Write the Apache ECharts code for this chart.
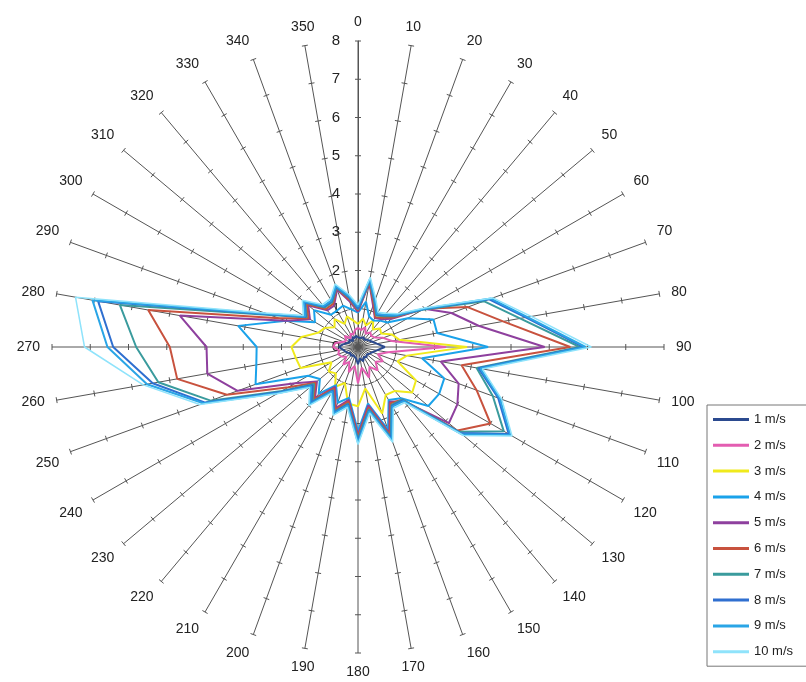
<!DOCTYPE html>
<html><head><meta charset="utf-8">
<script src="https://cdn.jsdelivr.net/npm/echarts@6/dist/echarts.min.js"></script>
<style>html,body{margin:0;padding:0;background:#fff}#c{width:806px;height:682px}</style>
</head><body><div id="c"></div>
<script>
// Wind direction (degrees), one value per spoke
const directions = [0,10,20,30,40,50,60,70,80,90,100,110,120,130,140,150,160,170,180,190,200,210,220,230,240,250,260,270,280,290,300,310,320,330,340,350];
const radiusTicks = [1,2,3,4,5,6,7,8];
const seriesNames = ['1 m/s','2 m/s','3 m/s','4 m/s','5 m/s','6 m/s','7 m/s','8 m/s','9 m/s','10 m/s'];

const speed1  = [0.25,0.3,0.25,0.3,0.25,0.3,0.3,0.4,0.5,0.7,0.5,0.4,0.35,0.3,0.35,0.3,0.4,0.3,0.45,0.3,0.3,0.25,0.3,0.25,0.3,0.35,0.4,0.5,0.4,0.3,0.25,0.3,0.2,0.3,0.25,0.3];
const speed2  = [0.5,0.45,0.55,0.4,0.5,0.45,0.5,0.7,0.9,2.3,0.8,0.55,0.75,0.6,0.8,0.6,0.85,0.55,0.95,0.5,0.7,0.45,0.6,0.4,0.5,0.55,0.5,0.65,0.6,0.4,0.35,0.45,0.3,0.4,0.35,0.45];
const speed3  = [0.6,0.75,0.6,0.8,0.6,0.75,0.7,0.95,1.1,2.85,1.3,1.1,1.75,1.85,1.5,1.45,1.85,1.1,1.55,1.5,1.0,1.2,0.9,1.0,0.8,1.6,1.65,1.74,1.5,1.1,1.0,0.8,0.95,0.7,0.85,0.7];
const speed4  = [0.9,1.2,0.85,0.8,0.9,1.0,1.5,2.1,2.1,3.4,1.7,2.4,2.45,2.4,1.75,1.6,2.3,1.5,2.2,1.35,1.55,1.15,1.6,1.3,1.5,2.85,2.7,2.65,3.18,2.0,1.3,1.5,1.1,1.1,1.15,1.0];
const speed5  = [0.92,1.7,1.15,0.88,0.95,1.15,2.0,2.6,3.2,4.88,2.2,2.8,3.0,3.1,1.85,1.65,2.4,1.55,2.3,1.4,1.7,1.2,1.75,1.4,1.9,3.35,4.0,3.96,4.73,2.0,1.45,1.7,1.25,1.25,1.6,1.2];
const speed6  = [0.95,1.72,1.2,0.9,1.0,1.2,2.0,3.05,3.85,5.55,2.75,3.3,4.0,3.4,1.8,1.7,2.45,1.6,2.35,1.45,1.75,1.25,1.8,1.45,2.1,3.65,4.8,4.92,5.57,2.2,1.5,1.75,1.3,1.3,1.65,1.25];
const speed7  = [0.98,1.75,1.25,0.95,1.05,1.25,1.95,3.5,4.3,5.8,3.15,3.75,4.4,3.45,1.8,1.75,2.5,1.65,2.4,1.5,1.8,1.3,1.85,1.5,2.3,4.1,5.3,5.8,6.32,2.45,1.55,1.8,1.35,1.35,1.65,1.3];
const speed8  = [1.0,1.78,1.28,0.98,1.08,1.28,1.98,3.65,4.45,5.9,3.2,3.9,4.55,3.5,1.82,1.78,2.55,1.68,2.45,1.52,1.82,1.32,1.9,1.55,2.35,4.25,5.45,6.4,6.9,2.5,1.58,1.82,1.38,1.38,1.68,1.32];
const speed9  = [1.05,1.8,1.3,1.0,1.1,1.3,2.0,3.7,4.5,5.95,3.25,3.95,4.6,3.55,1.85,1.8,2.6,1.7,2.5,1.55,1.85,1.35,1.95,1.6,2.4,4.3,5.6,6.55,7.05,2.55,1.6,1.85,1.4,1.4,1.7,1.35];
const speed10 = [1.1,1.85,1.35,1.05,1.15,1.35,2.05,3.75,4.6,6.1,3.3,4.0,4.65,3.6,1.9,1.85,2.65,1.75,2.55,1.6,1.9,1.4,2.0,1.65,2.45,4.4,5.7,7.15,7.5,2.6,1.65,1.9,1.45,1.45,1.75,1.4];

const allSpeeds = [speed1,speed2,speed3,speed4,speed5,speed6,speed7,speed8,speed9,speed10];
const seriesColors = ['#2b4a8f','#e35db1','#f0ea1c','#1aa2ea','#8e409e','#c8523e','#3a9b9d','#2f6fd0','#2aa5e6','#8fe3fb'];

function closedPolar(vals){
  const d = directions.map((a,i)=>[vals[i], a]);
  d.push([vals[0], 360]);
  return d;
}

const tickData = [];
directions.forEach(a => radiusTicks.forEach(r => tickData.push([r, a])));

const chart = echarts.init(document.getElementById('c'), null, {renderer:'canvas'});
const font = 'Liberation Sans, Arial, sans-serif';

const series = [{
  type:'custom', coordinateSystem:'polar', silent:true, z:1,
  data: tickData,
  renderItem: function(params, api){
    const r = api.value(0), a = api.value(1);
    const p = api.coord([r, a]);
    const c = api.coord([0, a]);
    const dx = p[0]-c[0], dy = p[1]-c[1];
    const len = Math.hypot(dx, dy) || 1;
    const nx = -dy/len*3, ny = dx/len*3;
    return {type:'line', shape:{x1:p[0]-nx,y1:p[1]-ny,x2:p[0]+nx,y2:p[1]+ny}, style:{stroke:'#555', lineWidth:1}};
  }
}];
allSpeeds.forEach((vals, i) => {
  series.push({
    name: seriesNames[i], type:'line', coordinateSystem:'polar',
    data: closedPolar(vals), symbol:'none', smooth:false, z:2,
    lineStyle:{color: seriesColors[i], width: i===9 ? 1.5 : 2},
    itemStyle:{color: seriesColors[i]}
  });
});

chart.setOption({
  animation:false,
  backgroundColor:'#fff',
  polar:{center:[358,347], radius:306},
  angleAxis:{
    type:'value', min:0, max:360, interval:10, startAngle:90, clockwise:true,
    axisLine:{show:false}, axisTick:{show:false},
    splitLine:{show:true, lineStyle:{color:'#555', width:1}},
    axisLabel:{show:true, margin:12, color:'#222', fontSize:14, fontFamily:font,
      formatter: v => v===360 ? '' : String(v)}
  },
  radiusAxis:{
    type:'value', min:0, max:8, interval:1,
    axisLine:{show:true, lineStyle:{color:'#555', width:1}},
    axisTick:{show:false},
    splitLine:{show:false},
    axisLabel:{show:true, margin:18, color:'#222', fontSize:15, fontFamily:font}
  },
  legend:{
    data: seriesNames, orient:'vertical', left:707, top:405,
    icon:'path://M0,0H36V3H0Z',
    itemWidth:36, itemHeight:14, itemGap:12.8,
    padding:[8,30,8,6], borderColor:'#777', borderWidth:1,
    textStyle:{color:'#222', fontSize:13, fontFamily:font},
    selectedMode:false
  },
  series: series
});
</script></body></html>
